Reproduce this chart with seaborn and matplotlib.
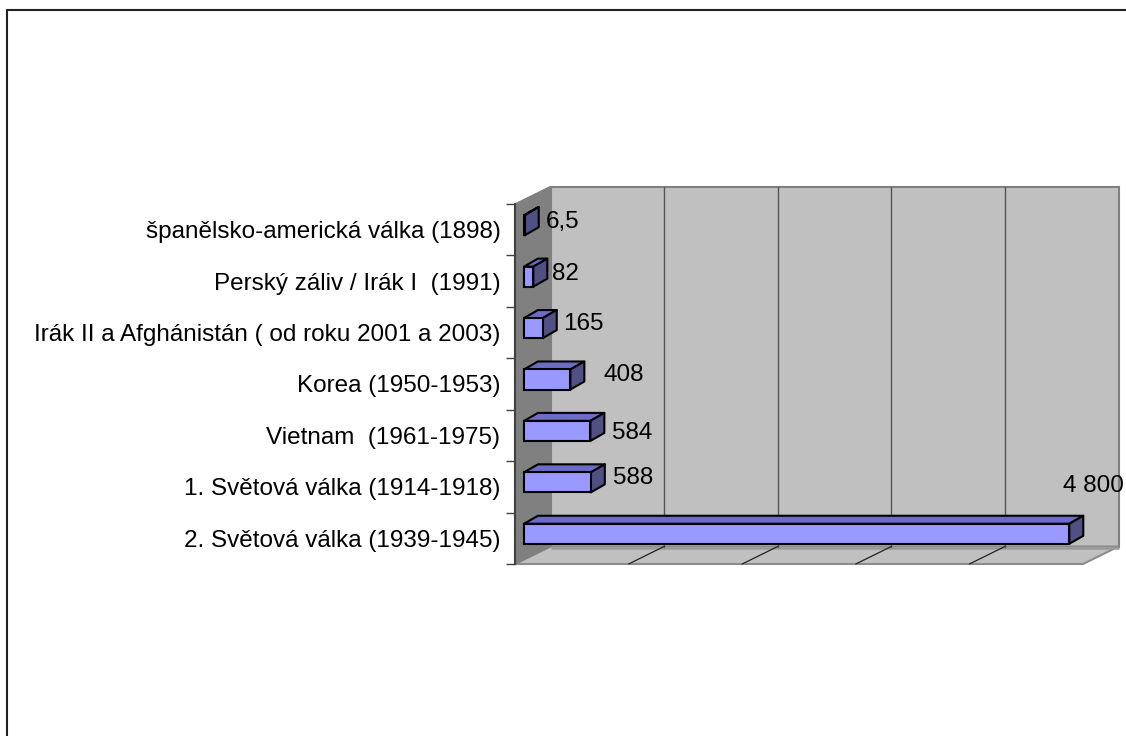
import numpy as np
import pandas as pd
import seaborn as sns
import matplotlib.pyplot as plt
from matplotlib.lines import Line2D
from matplotlib.patches import Polygon
from matplotlib.transforms import Affine2D, IdentityTransform

categories = [
    'španělsko-americká válka (1898)',
    'Perský záliv / Irák I  (1991)',
    'Irák II a Afghánistán ( od roku 2001 a 2003)',
    'Korea (1950-1953)',
    'Vietnam  (1961-1975)',
    '1. Světová válka (1914-1918)',
    '2. Světová válka (1939-1945)',
]
values = [6.5, 82, 165, 408, 584, 588, 4800]
value_labels = ['6,5', '82', '165', '408', '584', '588', '4 800']

# hand placed in the original, pixels from the bar end on the front plane
label_dx = [30, 28, 29, 42, 31, 31, 3]
label_dy = [8, 7, 9, 9, 2, 9, 52]

W, H = 1126, 736
WALL_D = (35.5, 17.5)   # depth of the chart box
BAR_OFF = (9, 4.5)    # bars sit inside the box
BAR_D = (14, 8)       # depth of each bar
FONT_SIZE = 17.5

FRONT = '#9999FF'
TOP = '#6C6CC8'
SIDE = '#505085'

sns.set_theme(style='white')
plt.rcParams['font.family'] = ['Liberation Sans', 'DejaVu Sans']

fig = plt.figure(figsize=(W / 100, H / 100), dpi=100, facecolor='white')
ax = fig.add_axes([515 / W, 1 - 564 / H, 568 / W, 360 / H])
ax.patch.set_alpha(0)

df = pd.DataFrame({'war': categories, 'dead': values})
sns.barplot(data=df, x='dead', y='war', orient='h', width=0.39, color=FRONT,
            saturation=1, ax=ax, zorder=4)
bars = list(ax.containers[0])
ax.set_xlim(0, 5000)
ax.set_ylim(6.5, -0.5)
ax.set_xlabel('')
ax.set_ylabel('')

# axes
sns.despine(ax=ax, top=True, right=True, bottom=True)
ax.spines['left'].set_color('#404040')
ax.spines['left'].set_linewidth(1.5)
ax.set_xticks([])
ax.set_yticks(np.arange(-0.5, 7), minor=True)
ax.tick_params(axis='y', which='major', length=0, pad=10.5, labelsize=FONT_SIZE, labelcolor='black')
ax.tick_params(axis='y', which='minor', left=True, length=6.5, width=1, color='#404040')

# box walls, built from the axes corners
to_px = ax.transData.transform
px = IdentityTransform()
fl, fr = to_px((0, 6.5)), to_px((5000, 6.5))
tl, tr = to_px((0, -0.5)), to_px((5000, -0.5))
d = np.array(WALL_D)

ax.add_patch(Polygon([fl + d, fr + d, tr + d, tl + d], transform=px, clip_on=False,
                     fc='#C0C0C0', ec='#808080', lw=1.5, zorder=1))
ax.add_patch(Polygon([fl, tl, tl + d, fl + d], transform=px, clip_on=False,
                     fc='#808080', ec='#808080', lw=1, zorder=1.2))
ax.add_patch(Polygon([fl, fr, fr + d, fl + d], transform=px, clip_on=False,
                     fc='#C0C0C0', ec='#8C8C8C', lw=1.5, zorder=1.1))
ax.plot(*zip(fl + d + (0, -1), fr + d + (0, -1)), transform=px, color='#9A9A9A', lw=1.8,
        clip_on=False, zorder=1.3, solid_capstyle='butt')

for g in range(1000, 5000, 1000):
    front = to_px((g, 6.5))
    ax.plot(*zip(front + d, to_px((g, -0.5)) + d), transform=px, color='#555555', lw=1,
            clip_on=False, zorder=1.5)
    ax.plot(*zip(front, front + d), transform=px, color='#222222', lw=0.9,
            clip_on=False, zorder=1.5)

# extrude the bars
shift = Affine2D().translate(*BAR_OFF)
b = np.array(BAR_D)
for bar in bars:
    bar.set_edgecolor('black')
    bar.set_linewidth(1.5)
    bar.set_clip_on(False)
    x0, y0 = bar.get_x(), bar.get_y()
    x1, y1 = x0 + bar.get_width(), y0 + bar.get_height()
    lt = shift.transform(to_px((x0, y0)))
    rl = shift.transform(to_px((x1, y1)))
    rt = shift.transform(to_px((x1, y0)))
    bar.set_transform(ax.transData + shift)
    ax.add_patch(Polygon([lt, rt, rt + b, lt + b], transform=px, clip_on=False,
                         fc=TOP, ec='black', lw=1.5, joinstyle='round', zorder=3.8))
    ax.add_patch(Polygon([rl, rt, rt + b, rl + b], transform=px, clip_on=False,
                         fc=SIDE, ec='black', lw=1.5, joinstyle='round', zorder=3.9))

for i, (v, t) in enumerate(zip(values, value_labels)):
    ax.annotate(t, xy=(v, i), xytext=(label_dx[i], label_dy[i]), textcoords='offset pixels',
                ha='left', va='center', fontsize=FONT_SIZE, color='black', zorder=6,
                annotation_clip=False)

# outer chart border, right and bottom fall off the picture
fig.add_artist(Line2D([7 / W, 7 / W], [0, 1 - 10 / H], color='#222222', lw=1.5))
fig.add_artist(Line2D([7 / W, 1], [1 - 10 / H, 1 - 10 / H], color='#222222', lw=1.5))

plt.savefig('out.png', dpi=100)
plt.close()
